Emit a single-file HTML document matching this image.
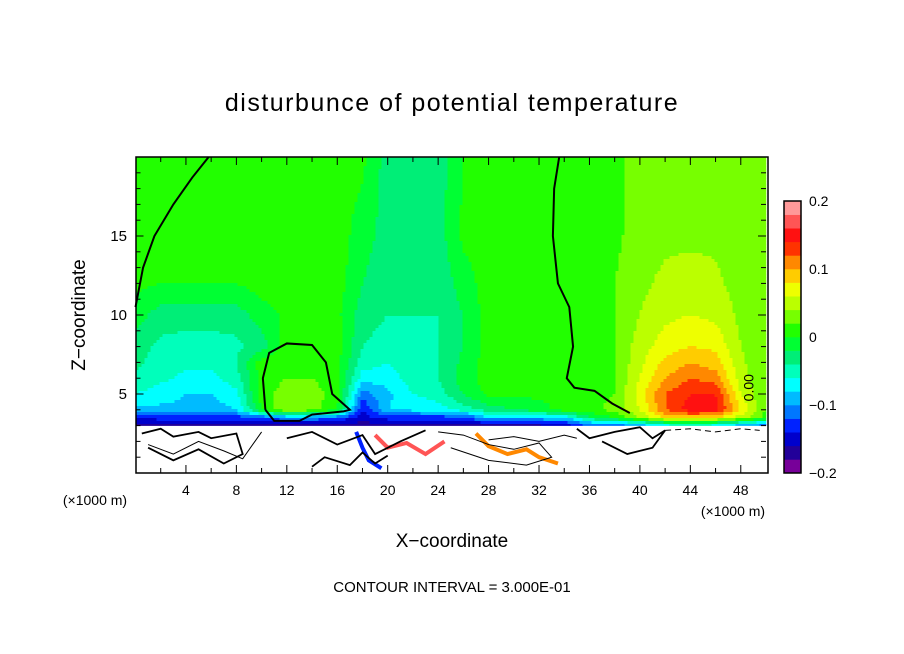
<!DOCTYPE html>
<html><head><meta charset="utf-8"><style>
body{margin:0;background:#fff;}
svg{display:block;font-family:"Liberation Sans",sans-serif;}
</style></head><body>
<svg id="chart" width="904" height="654" viewBox="0 0 904 654" xmlns="http://www.w3.org/2000/svg">
<rect x="0" y="0" width="904" height="654" fill="#fff"/>
<text x="452" y="111" text-anchor="middle" font-size="25" letter-spacing="1.5">disturbunce of potential temperature</text>
<g id="field"></g>
<g id="lines"></g>
<rect x="136" y="157" width="632" height="316" fill="none" stroke="#000" stroke-width="1.5"/>
<g id="ticks"></g>
<g id="cbar"></g>
<text x="85" y="315" text-anchor="middle" font-size="19" transform="rotate(-90 85 315)">Z−coordinate</text>
<text x="452" y="547" text-anchor="middle" font-size="19">X−coordinate</text>
<text x="95" y="505" text-anchor="middle" font-size="14">(×1000 m)</text>
<text x="733" y="516" text-anchor="middle" font-size="14">(×1000 m)</text>
<text x="452" y="592" text-anchor="middle" font-size="15">CONTOUR INTERVAL = 3.000E-01</text>
</svg>
<script>
const xs=[0,2,4,6,8,10,12,14,16,18,20,22,24,26,28,30,32,34,36,38,40,42,44,46,48,50];
const zs=[3.0,3.5,4,5,6,7,8,10,12,15,20];
const vals=[
[-0.17,-0.17,-0.17,-0.17,-0.17,-0.17,-0.17,-0.17,-0.17,-0.17,-0.17,-0.17,-0.17,-0.17,-0.17,-0.17,-0.17,-0.16,-0.12,-0.12,-0.1,-0.08,-0.06,-0.08,-0.1,-0.12],
[-0.14,-0.13,-0.13,-0.13,-0.13,-0.12,-0.1,-0.1,-0.12,-0.15,-0.13,-0.13,-0.13,-0.13,-0.08,-0.08,-0.08,-0.08,-0.02,0.0,0.04,0.08,0.09,0.08,0.05,0.01],
[-0.09,-0.085,-0.085,-0.09,-0.08,0.0,0.04,0.03,0.0,-0.14,-0.08,-0.075,-0.07,-0.05,-0.03,-0.02,-0.01,0.01,0.01,0.03,0.06,0.12,0.15,0.15,0.08,0.02],
[-0.06,-0.07,-0.08,-0.08,-0.065,0.01,0.03,0.03,0.01,-0.11,-0.085,-0.06,-0.05,-0.02,0.005,0.005,0.005,0.005,0.01,0.02,0.07,0.12,0.14,0.14,0.06,0.02],
[-0.045,-0.055,-0.065,-0.065,-0.05,0.01,0.02,0.02,0.005,-0.07,-0.07,-0.05,-0.04,-0.01,0.01,0.01,0.01,0.01,0.01,0.02,0.06,0.1,0.12,0.11,0.05,0.02],
[-0.035,-0.05,-0.055,-0.055,-0.04,0.01,0.015,0.015,0.005,-0.05,-0.06,-0.05,-0.04,-0.015,0.01,0.01,0.01,0.01,0.01,0.02,0.055,0.085,0.1,0.09,0.045,0.02],
[-0.03,-0.045,-0.05,-0.05,-0.045,-0.03,0.01,0.01,0.01,-0.04,-0.05,-0.05,-0.04,-0.02,0.01,0.01,0.01,0.01,0.01,0.02,0.05,0.07,0.08,0.075,0.04,0.02],
[-0.01,-0.03,-0.03,-0.03,-0.03,-0.01,0.005,0.005,0.005,-0.03,-0.04,-0.04,-0.04,-0.02,0.01,0.01,0.01,0.01,0.01,0.02,0.04,0.055,0.06,0.055,0.035,0.02],
[0.005,0.0,0.0,0.0,0.0,0.01,0.01,0.01,0.01,-0.02,-0.035,-0.035,-0.035,-0.01,0.01,0.01,0.01,0.01,0.01,0.02,0.035,0.045,0.05,0.045,0.03,0.02],
[0.01,0.01,0.01,0.01,0.01,0.01,0.01,0.01,0.01,-0.01,-0.03,-0.03,-0.03,0.005,0.01,0.01,0.01,0.01,0.01,0.015,0.03,0.035,0.035,0.035,0.03,0.02],
[0.01,0.01,0.01,0.01,0.01,0.01,0.01,0.01,0.01,0.005,-0.03,-0.03,-0.03,0.0,0.01,0.01,0.01,0.01,0.015,0.015,0.03,0.03,0.03,0.03,0.025,0.025]
];
const levelColors=["#770099","#220099","#0000cc","#0022ff","#0077ff","#00bbff","#00ffff","#00ffbb","#00ee77","#00ff33","#22ff00","#77ff00","#bbff00","#eeff00","#ffcc00","#ff8800","#ff3300","#ff1111","#ff5555","#ff9999"];
const cbarLabels=["0.2","0.1","0","−0.1","−0.2"];
const cbarLabelVals=[0.2,0.1,0,-0.1,-0.2];
const xTickVals=[4,8,12,16,20,24,28,32,36,40,44,48];
const yTickVals=[5,10,15];
const zeroLeftX=[0.0,0.6,1.5,3.0,4.5,5.8];
const zeroLeftZ=[10.5,13,15,17,18.7,20];
const bumpX=[10.3,10.1,10.6,12,14,15.1,15.6,17,16.5,14,13,11,10.3];
const bumpZ=[4.0,6,7.6,8.2,8.1,7,5,4,3.9,3.7,3.3,3.3,4.0];
const rightX=[33.6,33.2,33.1,33.5,34.4,34.7,34.2,34.8,36.4,37.8,39.2];
const rightZ=[20,18,15,12,10.5,8,6,5.4,5.2,4.4,3.8];
const NS="http://www.w3.org/2000/svg";
const X0=135.5,X1=766,Y0=473,Y1=157;
function sx(x){return X0+(x-0)/(50-0)*(X1-X0);}
function sz(z){return Y0-(z-0)/(20-0)*(Y0-Y1);}
function colorFor(v){let i=Math.floor((v+0.2)/0.02);i=Math.max(0,Math.min(19,i));return levelColors[i];}
function interp(x,z){
  let i=0;while(i<xs.length-2&&x>xs[i+1])i++;
  let j=0;while(j<zs.length-2&&z>zs[j+1])j++;
  const tx=Math.max(0,Math.min(1,(x-xs[i])/(xs[i+1]-xs[i])));
  const tz=Math.max(0,Math.min(1,(z-zs[j])/(zs[j+1]-zs[j])));
  const a=vals[j][i],b=vals[j][i+1],c=vals[j+1][i],d=vals[j+1][i+1];
  return (a*(1-tx)+b*tx)*(1-tz)+(c*(1-tx)+d*tx)*tz;
}
const field=document.getElementById('field');
const wb=document.createElementNS(NS,'rect');
wb.setAttribute('x',sx(0));wb.setAttribute('y',sz(zs[0]));wb.setAttribute('width',sx(50)-sx(0));wb.setAttribute('height',sz(0)-sz(zs[0]));wb.setAttribute('fill','#fff');


field.appendChild(wb);
function addCell(x0,x1,py,h,col){
  const r=document.createElementNS(NS,'rect');
  r.setAttribute('x',x0);r.setAttribute('y',py);r.setAttribute('width',x1-x0+0.3);r.setAttribute('height',h+0.3);r.setAttribute('fill',col);
  
  
  field.appendChild(r);
}
const step=3;
for(let py=sz(20);py<sz(zs[0]);py+=step){
  const h=Math.min(step,sz(zs[0])-py);
  const zc=20-((py+h/2)-sz(20))/(sz(0)-sz(20))*20;
  let runStart=sx(0),runCol=null;
  for(let px=sx(0);px<sx(50);px+=step){
    const xc=(px+step/2-X0)/(X1-X0)*50;
    const col=colorFor(interp(xc,zc));
    if(col!==runCol){
      if(runCol)addCell(runStart,px,py,h,runCol);
      runStart=px;runCol=col;
    }
  }
  if(runCol)addCell(runStart,sx(50),py,h,runCol);
}
const lines=document.getElementById('lines');
function poly(xa,za,w,dash,name){
  const p=document.createElementNS(NS,'polyline');
  p.setAttribute('points',xa.map((x,k)=>sx(x)+','+sz(za[k])).join(' '));
  p.setAttribute('fill','none');p.setAttribute('stroke','#000');p.setAttribute('stroke-width',w);
  if(dash)p.setAttribute('stroke-dasharray',dash);
  
  
  lines.appendChild(p);
}
poly(zeroLeftX,zeroLeftZ,2,null,'zero-contour-left');
poly(bumpX,bumpZ,2,null,'zero-contour-bump');
poly(rightX,rightZ,2,null,'zero-contour-right');
const scrX=[[0.5,2,3,5,6,8,8.5,7,5,3,1],[1,3,5,7,8.5,10],[12,14,16,18,19,21,23],[24,26,28,30,32,33,31,28,25],[35,36,38,40,41,42,41,39,37],[42,44,46,48,49.5],[14,15,17,18,19,20],[28,30,32,34,35]];
const scrZ=[[2.5,2.8,2.3,2.6,2.2,2.5,1.2,0.6,1.5,0.8,1.6],[1.8,1.2,2.0,1.4,0.9,2.6],[2.2,2.6,1.8,2.4,1.2,2.0,2.7],[2.6,2.4,1.8,1.5,1.9,1.0,0.5,0.8,1.6],[2.8,2.2,2.6,2.9,2.2,2.7,1.6,1.2,2.0],[2.7,2.8,2.6,2.8,2.7],[0.4,1.0,0.5,1.3,0.6,1.1],[2.1,2.3,2.0,2.4,2.2]];
for(let k=0;k<scrX.length;k++){poly(scrX[k],scrZ[k],k%2?1:1.8,k===5?'6,4':null,'lower-contour-'+k);}
const streakX=[[17.5,18,18.5,19.5],[19,20,21.5,23,24.5],[27,28,29.5,31,32,33.5]];
const streakZ=[[2.6,1.6,0.8,0.3],[2.4,1.6,1.9,1.2,2.0],[2.5,1.7,1.2,1.5,1.0,0.6]];
const streakC=["#0022ff","#ff5555","#ff8800"];
for(let k=0;k<streakX.length;k++){
  const p=document.createElementNS(NS,'polyline');
  p.setAttribute('points',streakX[k].map((x,m)=>sx(x)+','+sz(streakZ[k][m])).join(' '));
  p.setAttribute('fill','none');p.setAttribute('stroke',streakC[k]);p.setAttribute('stroke-width',4);
  
  
  lines.insertBefore(p,lines.firstChild);
}
const lab=document.createElementNS(NS,'text');
lab.setAttribute('x',sx(49));lab.setAttribute('y',sz(5.4));lab.setAttribute('font-size','14');
lab.setAttribute('transform','rotate(-90 '+sx(49)+' '+sz(5.4)+')');lab.setAttribute('text-anchor','middle');
lab.textContent='0.00';


lines.appendChild(lab);
const tk=document.getElementById('ticks');
function line(x1,y1,x2,y2,name){const l=document.createElementNS(NS,'line');l.setAttribute('x1',x1);l.setAttribute('y1',y1);l.setAttribute('x2',x2);l.setAttribute('y2',y2);l.setAttribute('stroke','#000');l.setAttribute('stroke-width',1);


tk.appendChild(l);}
for(let x=2;x<50;x+=2){const L=(x%4===0)?8:5;line(sx(x),Y0,sx(x),Y0-L,'x-tick');line(sx(x),Y1,sx(x),Y1+L,'x-tick');}
for(let z=1;z<20;z++){const L=(z%5===0)?8:5;line(X0,sz(z),X0+L,sz(z),'y-tick');line(X1,sz(z),X1-L,sz(z),'y-tick');}
xTickVals.forEach(v=>{const t=document.createElementNS(NS,'text');t.setAttribute('x',sx(v));t.setAttribute('y',495);t.setAttribute('text-anchor','middle');t.setAttribute('font-size','14');t.textContent=v;


tk.appendChild(t);});
yTickVals.forEach(v=>{const t=document.createElementNS(NS,'text');t.setAttribute('x',127);t.setAttribute('y',sz(v)+5);t.setAttribute('text-anchor','end');t.setAttribute('font-size','15');t.textContent=v;


tk.appendChild(t);});
const cb=document.getElementById('cbar');
const CB0=473,CB1=201,CX=784,CW=17;
function cy(v){return CB0-(v+0.2)/0.4*(CB0-CB1);}
levelColors.forEach((c,i)=>{const r=document.createElementNS(NS,'rect');const lo=-0.2+i*0.02;
r.setAttribute('x',CX);r.setAttribute('y',cy(lo+0.02));r.setAttribute('width',CW);r.setAttribute('height',cy(lo)-cy(lo+0.02)+0.3);r.setAttribute('fill',c);


cb.appendChild(r);});
const fr=document.createElementNS(NS,'rect');fr.setAttribute('x',CX);fr.setAttribute('y',CB1);fr.setAttribute('width',CW);fr.setAttribute('height',CB0-CB1);fr.setAttribute('fill','none');fr.setAttribute('stroke','#000');fr.setAttribute('stroke-width',1.5);


cb.appendChild(fr);
cbarLabels.forEach((s,i)=>{const t=document.createElementNS(NS,'text');t.setAttribute('x',809);t.setAttribute('y',cy(cbarLabelVals[i])+5);t.setAttribute('font-size','14');t.textContent=s;


cb.appendChild(t);});
</script>
</body></html>
